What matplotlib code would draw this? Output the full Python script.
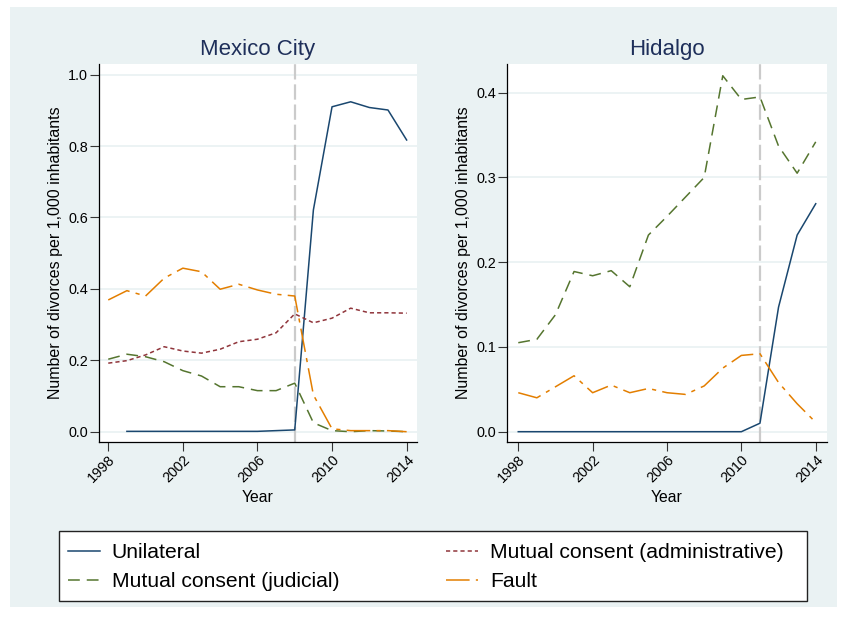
import numpy as np
import matplotlib
matplotlib.use("Agg")
import matplotlib.pyplot as plt
from matplotlib.patches import Rectangle
from matplotlib.lines import Line2D

plt.rcParams["font.family"] = ["Liberation Sans", "DejaVu Sans"]
plt.rcParams["lines.scale_dashes"] = False

years = list(range(1998, 2015))
nan = np.nan

# Mexico City, divorces per 1,000 inhabitants
mx_unilateral = [nan, 0.001, 0.001, 0.001, 0.001, 0.001, 0.001, 0.001, 0.001, 0.003,
                 0.005, 0.621, 0.910, 0.924, 0.908, 0.901, 0.817]
mx_admin = [0.192, 0.199, 0.215, 0.238, 0.226, 0.220, 0.231, 0.252, 0.259, 0.277,
            0.330, 0.305, 0.318, 0.346, 0.333, 0.333, 0.332]
mx_judicial = [0.203, 0.217, 0.210, 0.196, 0.171, 0.156, 0.126, 0.126, 0.115, 0.115,
               0.136, 0.025, 0.003, 0.000, 0.003, 0.002, 0.000]
mx_fault = [0.369, 0.395, 0.380, 0.430, 0.458, 0.448, 0.399, 0.413, 0.397, 0.385,
            0.380, 0.103, 0.008, 0.003, 0.003, 0.003, 0.000]

# Hidalgo, divorces per 1,000 inhabitants
hg_unilateral = [0.0, 0.0, 0.0, 0.0, 0.0, 0.0, 0.0, 0.0, 0.0, 0.0,
                 0.0, 0.0, 0.0, 0.010, 0.147, 0.232, 0.269]
hg_judicial = [0.105, 0.109, 0.138, 0.189, 0.184, 0.190, 0.171, 0.232, 0.254, 0.277,
               0.300, 0.420, 0.392, 0.395, 0.337, 0.305, 0.342]
hg_fault = [0.046, 0.040, 0.053, 0.066, 0.046, 0.055, 0.046, 0.051, 0.046, 0.044,
            0.054, 0.075, 0.090, 0.092, 0.058, 0.033, 0.011]

reform_year = {"Mexico City": 2008, "Hidalgo": 2011}
xticks = [1998, 2002, 2006, 2010, 2014]
mx_yticks = [0.0, 0.2, 0.4, 0.6, 0.8, 1.0]
hg_yticks = [0.0, 0.1, 0.2, 0.3, 0.4]

NAVY = "#1a476f"
MAROON = "#90353b"
GREEN = "#55752f"
ORANGE = "#e37e00"
BG = "#eaf2f3"
TITLE_C = "#1e2f5a"

styles = {
    "Unilateral": dict(color=NAVY, linestyle="-"),
    "Mutual consent (administrative)": dict(color=MAROON, linestyle=(0, (3.0, 2.2))),
    "Mutual consent (judicial)": dict(color=GREEN, linestyle=(0, (8.5, 5.0))),
    "Fault": dict(color=ORANGE, linestyle=(0, (17.0, 4.5, 3.0, 4.5))),
}
LW = 1.1

W, H = 844, 617
fig = plt.figure(figsize=(W / 100, H / 100), dpi=100)
fig.patch.set_facecolor("white")
fig.patches.append(Rectangle((10 / W, 1 - 607 / H), 827 / W, 600 / H,
                             transform=fig.transFigure, facecolor=BG,
                             edgecolor="none", zorder=-10))


def px_axes(x0, y0, x1, y1):
    return fig.add_axes([x0 / W, 1 - y1 / H, (x1 - x0) / W, (y1 - y0) / H])


def style_axes(ax, title, yticks, ylim, xlim):
    ax.set_facecolor("white")
    ax.set_xlim(*xlim)
    ax.set_ylim(*ylim)
    ax.set_xticks(xticks)
    ax.set_xticklabels([str(y) for y in xticks], rotation=45, ha="right",
                       va="top", rotation_mode="anchor", fontsize=10.4)
    ax.set_yticks(yticks)
    ax.set_yticklabels([f"{v:.1f}" for v in yticks], fontsize=10.4)
    for y in yticks:
        ax.axhline(y, color=BG, lw=1.3, zorder=0)
    ax.spines["top"].set_visible(False)
    ax.spines["right"].set_visible(False)
    ax.spines["left"].set_linewidth(0.9)
    ax.spines["bottom"].set_linewidth(0.9)
    ax.tick_params(axis="both", length=6.5, width=0.8, color="#333333",
                   labelcolor="black", pad=1.5)
    ax.set_title(title, fontsize=16, color=TITLE_C, pad=7)
    ax.set_xlabel("Year", fontsize=11.3, labelpad=3)
    ax.set_ylabel("Number of divorces per 1,000 inhabitants", fontsize=11.5,
                  labelpad=4)
    ax.axvline(reform_year[title], color="#cbcbcb", lw=1.6,
               linestyle=(0, (11.0, 3.5)), zorder=1)


ax1 = px_axes(99.3, 64.3, 416.7, 441.7)
style_axes(ax1, "Mexico City", mx_yticks, (-0.028, 1.029), (1997.52, 2014.54))
ax1.plot(years, mx_unilateral, lw=LW, **styles["Unilateral"], zorder=3)
ax1.plot(years, mx_admin, lw=LW, **styles["Mutual consent (administrative)"], zorder=3)
ax1.plot(years, mx_judicial, lw=LW, **styles["Mutual consent (judicial)"], zorder=3)
ax1.plot(years, mx_fault, lw=LW, **styles["Fault"], zorder=3)

ax2 = px_axes(507.3, 64.3, 826.7, 441.7)
style_axes(ax2, "Hidalgo", hg_yticks, (-0.0118, 0.4335), (1997.41, 2014.59))
ax2.plot(years, hg_unilateral, lw=LW, **styles["Unilateral"], zorder=3)
ax2.plot(years, hg_judicial, lw=LW, **styles["Mutual consent (judicial)"], zorder=3)
ax2.plot(years, hg_fault, lw=LW, **styles["Fault"], zorder=3)

# Legend box spanning both panels
fig.patches.append(Rectangle((59 / W, 1 - 601 / H), 748 / W, 70 / H,
                             transform=fig.transFigure, facecolor="white",
                             edgecolor="#222222", lw=1.0, zorder=1))
order = ["Unilateral", "Mutual consent (judicial)",
         "Mutual consent (administrative)", "Fault"]
handles = [Line2D([], [], lw=LW, **styles[k]) for k in order]
fig.legend(handles, order, ncol=2, frameon=False, fontsize=15.2,
           loc="upper left", bbox_to_anchor=(68 / W, 1 - 543 / H),
           borderpad=0, borderaxespad=0, handlelength=1.52,
           handletextpad=0.55, columnspacing=5.07, labelspacing=0.48)

fig.savefig("out.png", dpi=100, facecolor=fig.get_facecolor())
